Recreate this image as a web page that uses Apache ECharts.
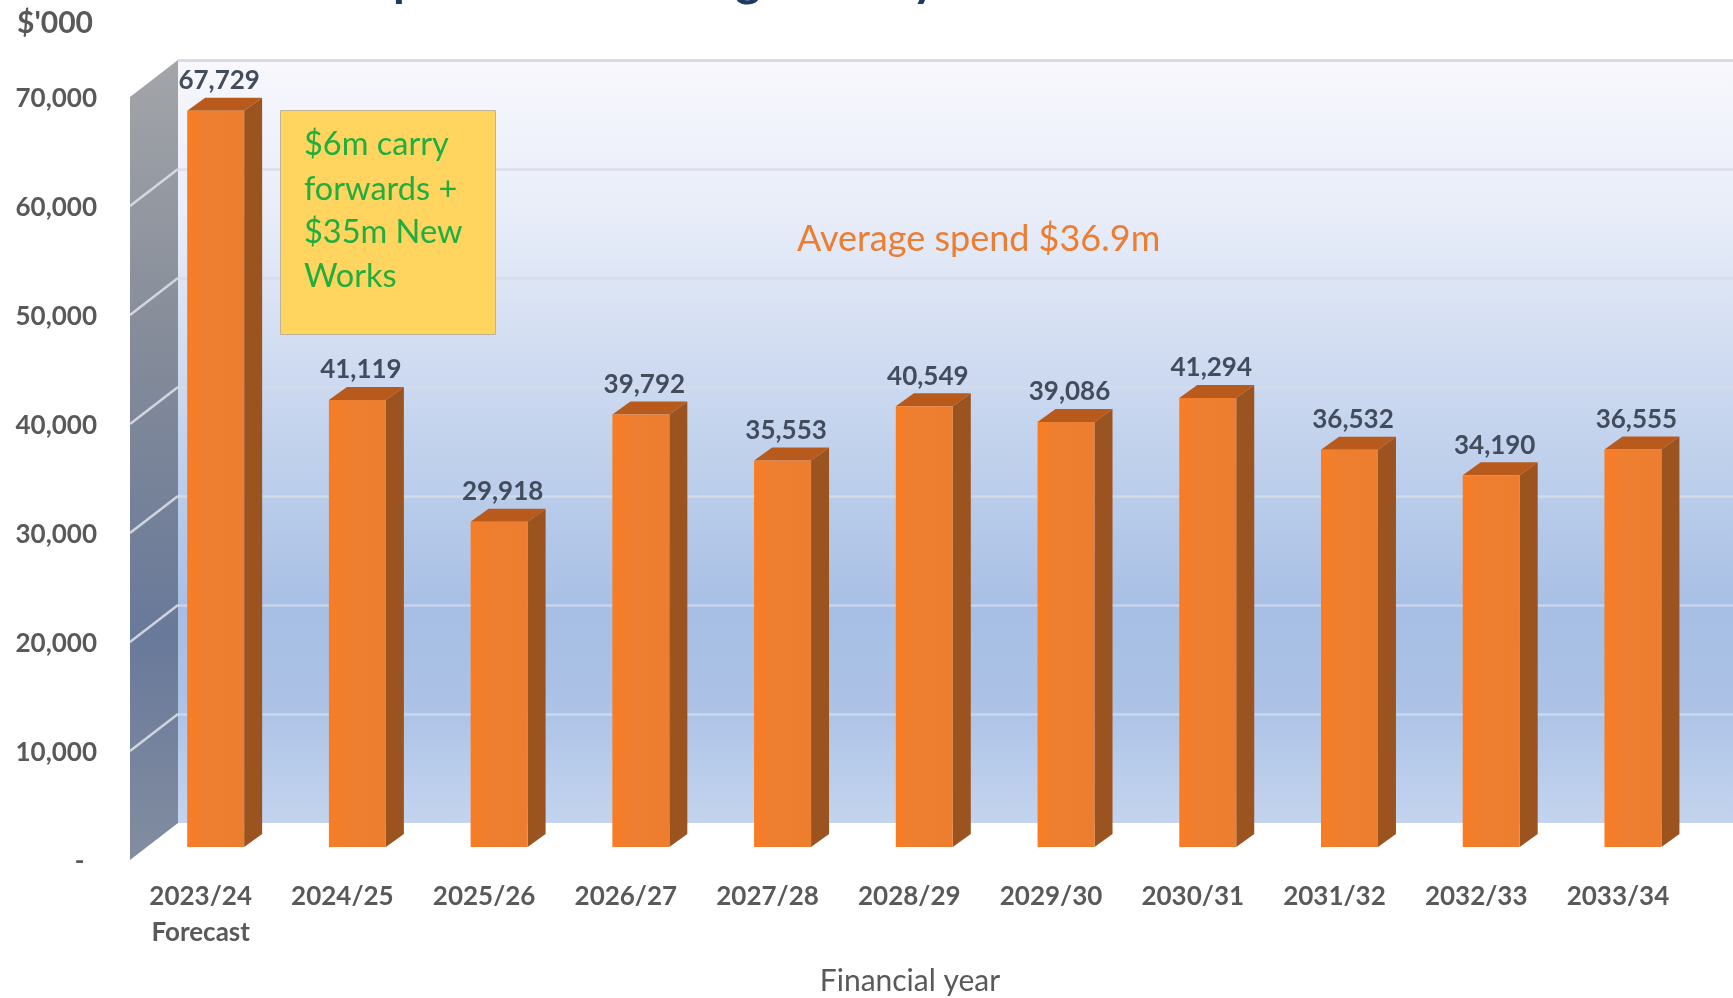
<!DOCTYPE html>
<html>
<head>
<meta charset="utf-8">
<title>Capital Works Budget</title>
<script src="https://cdn.jsdelivr.net/npm/echarts@6/dist/echarts.min.js"></script>
<style>
  html, body { margin: 0; padding: 0; background: #fff; }
  #chart { width: 1733px; height: 998px; }
</style>
</head>
<body>
<div id="chart"></div>
<script>
// Annual capital spend, $'000
const categories = ['2023/24\nForecast', '2024/25', '2025/26', '2026/27', '2027/28', '2028/29', '2029/30', '2030/31', '2031/32', '2032/33', '2033/34'];
const spendValues = [67729, 41119, 29918, 39792, 35553, 40549, 39086, 41294, 36532, 34190, 36555];
const wallTicks = [10000, 20000, 30000, 40000, 50000, 60000];
const yMax = 70000;
const yStep = 10000;
const noteLines = ['$6m carry', 'forwards +', '$35m New', 'Works'];

const FONT = 'Lato, Carlito, "Noto Sans", sans-serif';
const INK = '#595959';

// Faux-3D extrusion of each column, and of the side wall, in pixels
const BAR_DEPTH = { x: 18, y: -13 };
const WALL_DEPTH = { x: 48, y: -37 };

function renderColumn(params, api) {
  const cat = api.value(0);
  const val = api.value(1);
  const base = api.coord([cat, 0]);
  const top = api.coord([cat, val]);
  const w = api.size([1, 0])[0] * 0.402;
  const l = base[0] - w / 2;
  const r = base[0] + w / 2;
  const dx = BAR_DEPTH.x;
  const dy = BAR_DEPTH.y;
  return {
    type: 'group',
    children: [
      {
        type: 'polygon',
        shape: { points: [[r, top[1]], [r + dx, top[1] + dy], [r + dx, base[1] + dy], [r, base[1]]] },
        style: { fill: '#9b5320' }
      },
      {
        type: 'polygon',
        shape: { points: [[l, top[1]], [l + dx, top[1] + dy], [r + dx, top[1] + dy], [r, top[1]]] },
        style: { fill: '#b75a1c' }
      },
      {
        type: 'rect',
        shape: { x: l, y: top[1], width: w, height: base[1] - top[1] },
        style: {
          fill: new echarts.graphic.LinearGradient(0, 0, 1, 0, [
            { offset: 0, color: '#fa7c24' },
            { offset: 0.3, color: '#ee7f30' },
            { offset: 1, color: '#ed7d2f' }
          ])
        }
      },
      {
        type: 'text',
        style: {
          text: echarts.format.addCommas(val),
          x: base[0] + 3.5,
          y: top[1] - 30,
          align: 'center',
          verticalAlign: 'middle',
          fontFamily: FONT,
          fontSize: 26,
          fontWeight: 700,
          fill: '#434c5c'
        }
      }
    ]
  };
}

// Side wall: the front edge lies on the axis, the rear edge is pushed back by WALL_DEPTH
function renderWall(params, api) {
  const fb = api.coord([0, 0]);
  const ft = api.coord([0, yMax]);
  const dx = WALL_DEPTH.x;
  const dy = WALL_DEPTH.y;
  return {
    type: 'polygon',
    shape: { points: [[fb[0], fb[1]], [ft[0], ft[1]], [ft[0] + dx, ft[1] + dy], [fb[0] + dx, fb[1] + dy]] },
    style: {
      fill: new echarts.graphic.LinearGradient(0, 0, 0, 1, [
        { offset: 0, color: '#a3a5a9' },
        { offset: 0.35, color: '#858c99' },
        { offset: 0.72, color: '#69799a' },
        { offset: 1, color: '#828da0' }
      ])
    }
  };
}

function renderWallLine(params, api) {
  const p = api.coord([0, api.value(0)]);
  return {
    type: 'line',
    shape: { x1: p[0], y1: p[1], x2: p[0] + WALL_DEPTH.x, y2: p[1] + WALL_DEPTH.y },
    style: { stroke: '#dfe3ea', lineWidth: 2.5, opacity: 0.85 }
  };
}

const chart = echarts.init(document.getElementById('chart'), null, { renderer: 'canvas' });

chart.setOption({
  animation: false,
  backgroundColor: '#ffffff',
  grid: [
    // rear panel, runs off the right edge
    {
      left: 178, right: 0, top: 60, height: 763,
      show: true,
      borderWidth: 0,
      backgroundColor: new echarts.graphic.LinearGradient(0, 0, 0, 1, [
        { offset: 0, color: '#f8f8fd' },
        { offset: 0.2, color: '#e8edf9' },
        { offset: 0.4, color: '#cfdbf1' },
        { offset: 0.6, color: '#b6cae9' },
        { offset: 0.72, color: '#a8bfe5' },
        { offset: 0.84, color: '#abc2e6' },
        { offset: 1, color: '#c4d4ee' }
      ])
    },
    // column plane
    { left: 144.8, width: 1559, top: 86, height: 761 },
    // side wall
    { left: 130, width: 48, top: 97, height: 763 },
    // value labels, set just under the wall's tick heights
    { left: 130, width: 48, top: 99, height: 763 }
  ],
  xAxis: [
    { gridIndex: 0, type: 'value', min: 0, max: 1, show: false },
    {
      gridIndex: 1,
      type: 'category',
      data: categories,
      axisLine: { show: false },
      axisTick: { show: false },
      axisLabel: {
        interval: 0,
        margin: 32,
        padding: [0, 30, 0, 0],
        fontFamily: FONT,
        fontSize: 26,
        fontWeight: 700,
        lineHeight: 36,
        color: INK
      }
    },
    { gridIndex: 2, type: 'value', min: 0, max: 1, show: false },
    { gridIndex: 3, type: 'value', min: 0, max: 1, show: false }
  ],
  yAxis: [
    {
      gridIndex: 0, type: 'value', min: 0, max: yMax, interval: yStep,
      axisLine: { show: false }, axisTick: { show: false }, axisLabel: { show: false },
      splitLine: {
        show: true,
        lineStyle: {
          width: 2.5,
          color: ['rgba(0,0,0,0)', '#c9d8ef', '#c6d5ee', '#d0dbe8', '#d2dcec', '#d6dde9', '#dcdfe8', '#d6d6d8']
        }
      }
    },
    { gridIndex: 1, type: 'value', min: 0, max: yMax, interval: yStep, show: false },
    { gridIndex: 2, type: 'value', min: 0, max: yMax, interval: yStep, show: false },
    {
      gridIndex: 3, type: 'value', min: 0, max: yMax, interval: yStep,
      axisLine: { show: false },
      axisTick: { show: false },
      splitLine: { show: false },
      axisLabel: {
        margin: 33,
        fontFamily: FONT,
        fontSize: 26,
        fontWeight: 700,
        color: INK,
        formatter: v => (v === 0 ? '-  ' : echarts.format.addCommas(v))
      }
    }
  ],
  series: [
    { type: 'custom', xAxisIndex: 2, yAxisIndex: 2, data: [[0]], renderItem: renderWall, silent: true, z: 2 },
    { type: 'custom', xAxisIndex: 2, yAxisIndex: 2, data: wallTicks.map(v => [v]), encode: { y: 0 }, renderItem: renderWallLine, silent: true, z: 3 },
    {
      name: "Spend ($'000)",
      type: 'custom',
      xAxisIndex: 1,
      yAxisIndex: 1,
      data: spendValues.map((v, i) => [i, v]),
      encode: { x: 0, y: 1 },
      renderItem: renderColumn,
      z: 5
    }
  ],
  graphic: [
    {
      type: 'text', x: 17, y: 23, z: 10,
      style: { text: "$'000", fontFamily: FONT, fontSize: 30, fontWeight: 700, fill: INK, verticalAlign: 'middle' }
    },
    {
      // heading sits above the top edge, only its descenders reach the page
      type: 'text', x: 337, y: 5, z: 10,
      style: { text: 'Capital Works Budget - 10 year Financial Outlook', fontFamily: FONT, fontSize: 48, fontWeight: 700, fill: '#1f3864', verticalAlign: 'bottom' }
    },
    {
      type: 'rect', z: 10,
      shape: { x: 280.5, y: 110.5, width: 215, height: 224 },
      style: { fill: '#ffd55f', stroke: '#bdb499', lineWidth: 1 }
    },
    ...noteLines.map((line, i) => ({
      type: 'text', x: 304, y: [145, 190, 233, 277][i], z: 11,
      style: { text: line, fontFamily: FONT, fontSize: 32.5, fill: '#1fae3f', verticalAlign: 'middle' }
    })),
    {
      type: 'text', x: 797, y: 239, z: 10,
      style: { text: 'Average spend $36.9m', fontFamily: FONT, fontSize: 36, fill: '#ed7d31', verticalAlign: 'middle' }
    },
    {
      type: 'text', x: 910, y: 981, z: 10,
      style: { text: 'Financial year', fontFamily: FONT, fontSize: 30, fill: INK, align: 'center', verticalAlign: 'middle' }
    }
  ]
});
</script>
</body>
</html>
